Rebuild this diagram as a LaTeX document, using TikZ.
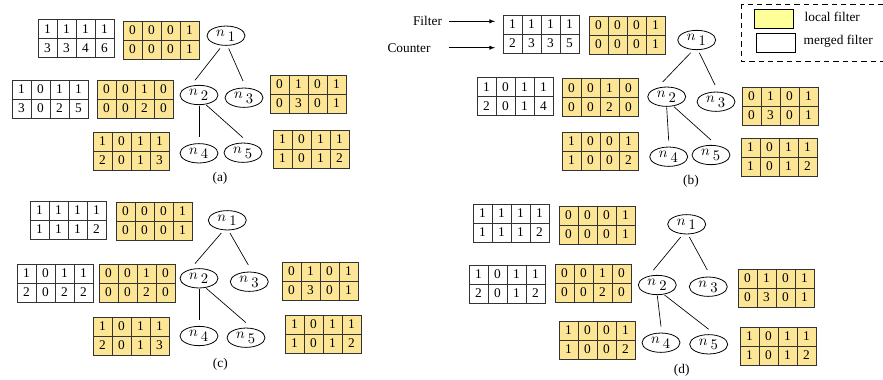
\documentclass[tikz,border=0pt]{standalone}
\usepackage{fontspec}
\setmainfont{Liberation Serif}
\usetikzlibrary{shapes}
\usetikzlibrary{arrows}
\usetikzlibrary{positioning}
\usetikzlibrary{calc}
\definecolor{tabyellow}{RGB}{252,229,148}
\definecolor{keyyellow}{RGB}{255,255,153}
\tikzset{%
  cell/.style={draw=black!80, line width=.6pt, minimum width=14.25pt, minimum height=14.25pt,
    inner sep=0pt, outer sep=0pt, font=\fontsize{10}{12}\selectfont},% one bit of a filter
  local/.style={cell, fill=tabyellow},% local filter
  merged/.style={cell, fill=white},% merged filter
  host/.style={draw, ellipse, line width=.6pt, minimum width=28.5pt, minimum height=14.5pt,
    inner sep=0pt, font=\fontsize{11}{13}\selectfont},% tree node
  link/.style={line width=.5pt},% tree edge
  pointer/.style={-latex, line width=.5pt, shorten >=6pt},% Filter / Counter arrows
  caption/.style={font=\fontsize{10}{12}\selectfont},
  swatch/.style={draw, line width=.6pt, minimum width=29pt, minimum height=14pt, inner sep=0pt}
}
% a filter: two rows of four cells, top left corner at #3
\newcommand*{\filt}[5]{%
  \foreach \v [count=\i] in {#4}
    \node[#1, anchor=north west] (#2-1-\i) at ($(#3)+(\i*19-19,0)$) {\v};
  \foreach \v [count=\i] in {#5}
    \node[#1, anchor=north west] (#2-2-\i) at ($(#3)+(\i*19-19,19)$) {\v};
}
% the tree n1..n5, centres given in #2..#6
\newcommand*{\tree}[6]{%
  \node[host] (#1n1) at (#2) {$n_{\;\textstyle 1}$};
  \node[host] (#1n2) at (#3) {$n_{\;\textstyle 2}$};
  \node[host] (#1n3) at (#4) {$n_{\;\textstyle 3}$};
  \node[host] (#1n4) at (#5) {$n_{\;\textstyle 4}$};
  \node[host] (#1n5) at (#6) {$n_{\;\textstyle 5}$};
  \draw[link] ([xshift=-4.5pt,yshift=-2pt]#1n1.south) -- ([xshift=-3pt,yshift=3.5pt]#1n2.north);
  \draw[link] ([xshift=2pt,yshift=-2pt]#1n1.south) -- ([xshift=-.75pt,yshift=5pt]#1n3.north);
  \draw[link] ([yshift=-.5pt]#1n2.south) -- ([yshift=4.5pt]#1n4.north);
  \draw[link] ([xshift=5.5pt]#1n2.south) -- ([yshift=3.7pt]#1n5.north);
}

\begin{document}
\begin{tikzpicture}[x=.75pt, y=-.75pt]
  \useasboundingbox (0,0) rectangle (883,379);
  % (a)
  \filt{merged}{aM}{38,19.5}{1,1,1,1}{3,3,4,6}
  \filt{local}{aL1}{123,21}{0,0,0,1}{0,0,0,1}
  \filt{merged}{aM2}{12,80}{1,0,1,1}{3,0,2,5}
  \filt{local}{aL2}{97,80}{0,0,1,0}{0,0,2,0}
  \filt{local}{aL3}{270,75}{0,1,0,1}{0,3,0,1}
  \filt{local}{aL4}{93,132}{1,0,1,1}{2,0,1,3}
  \filt{local}{aL5}{273,130}{1,0,1,1}{1,0,1,2}
  \tree{a}{226,35.7}{199,95}{244,97.7}{199,153.3}{243,152.7}
  \node[caption] (capa) at (220,178) {(a)};
  % (b)
  \filt{merged}{bM}{503,15}{1,1,1,1}{2,3,3,5}
  \filt{local}{bL1}{589,16}{0,0,0,1}{0,0,0,1}
  \filt{merged}{bM2}{477,77.5}{1,0,1,1}{2,0,1,4}
  \filt{local}{bL2}{562,78.5}{0,0,1,0}{0,0,2,0}
  \filt{local}{bL3}{742,87}{0,1,0,1}{0,3,0,1}
  \filt{local}{bL4}{562,132}{1,0,0,1}{1,0,0,2}
  \filt{local}{bL5}{741,138}{1,0,1,1}{1,0,1,2}
  \tree{b}{696.7,40}{666.7,96.7}{716,101.7}{668.7,156.7}{711,155}
  \node[caption] (capb) at (691,181) {(b)};
  % Filter / Counter pointers
  \node[caption] (filterlab) at (427.5,21.3) {Filter};
  \node[caption] (counterlab) at (409,47.7) {Counter};
  \coordinate (tail) at (449,0);
  \draw[pointer] (filterlab -| tail) -- (filterlab -| bM-1-1.west);
  \draw[pointer] (counterlab -| tail) -- (counterlab -| bM-1-1.west);
  % legend
  \draw[dashed, line width=.6pt, dash pattern=on 4pt off 3pt] (741,4) rectangle (900,61);
  \node[swatch, fill=keyyellow, anchor=north west] (keylocal) at (754,9) {};
  \node[swatch, fill=white, anchor=north west] (keymerged) at (756,33) {};
  \node[caption, anchor=west] (keylocaltxt) at (800,16.7) {local filter};
  \node[caption, anchor=west] (keymergedtxt) at (799,41.7) {merged filter};
  % (c)
  \filt{merged}{cM}{30,201}{1,1,1,1}{1,1,1,2}
  \filt{local}{cL1}{116,202}{0,0,0,1}{0,0,0,1}
  \filt{merged}{cM2}{17,264}{1,0,1,1}{2,0,2,2}
  \filt{local}{cL2}{99,264}{0,0,1,0}{0,0,2,0}
  \filt{local}{cL3}{282,262}{0,1,0,1}{0,3,0,1}
  \filt{local}{cL4}{93,317}{1,0,1,1}{2,0,1,3}
  \filt{local}{cL5}{285,315}{1,0,1,1}{1,0,1,2}
  \tree{c}{227.3,220.3}{199,278.3}{249.3,281.7}{199,336}{246,337.7}
  \node[caption] (capc) at (220.3,364) {(c)};
  % (d)
  \filt{merged}{dM}{473,204}{1,1,1,1}{1,1,1,2}
  \filt{local}{dL1}{559,206}{0,0,0,1}{0,0,0,1}
  \filt{merged}{dM2}{469,265}{1,0,1,1}{2,0,1,2}
  \filt{local}{dL2}{555,264}{0,0,1,0}{0,0,2,0}
  \filt{local}{dL3}{738,269}{0,1,0,1}{0,3,0,1}
  \filt{local}{dL4}{559,321}{1,0,0,1}{1,0,0,2}
  \filt{local}{dL5}{740,327}{1,0,1,1}{1,0,1,2}
  \tree{d}{686.7,224.3}{657.3,285}{708.3,286.7}{661,342.7}{708.7,344.3}
  \node[caption] (capd) at (681.7,370) {(d)};
\end{tikzpicture}
\end{document}
